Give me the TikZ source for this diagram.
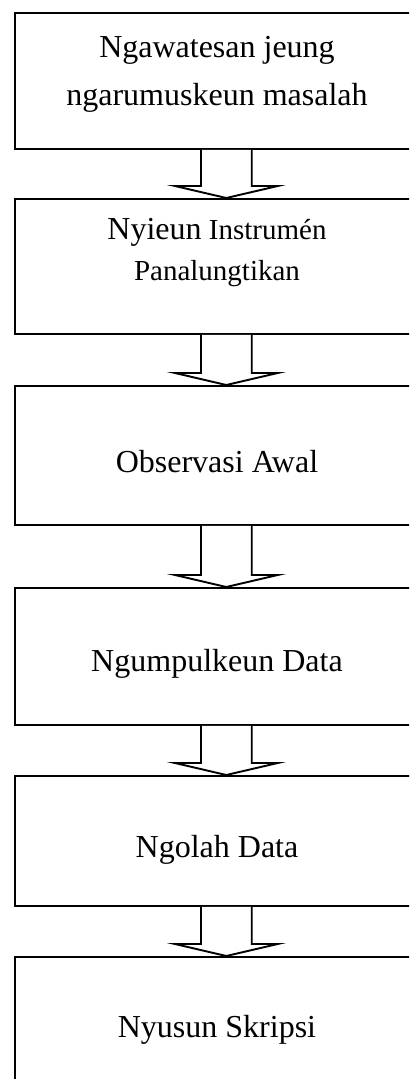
\documentclass[tikz,border=0pt]{standalone}
\usepackage{fontspec}
\setmainfont{Liberation Serif}
\usetikzlibrary{calc}
\tikzset{
  stage/.style={draw, line width=1.9bp, fill=white, minimum width=404bp, inner ysep=0pt, anchor=north, align=center, font=\fontsize{32bp}{48bp}\selectfont},
  flow/.style={draw, line width=1.9bp, fill=white, line join=miter}
}
% block arrow from the bottom of one box to the top of the next
\newcommand{\flowarrow}[2]{%
  \filldraw[flow] ($(#1.south)+(-16,0)$) -- ($(#2.north)+(-16,-12)$) -- ($(#2.north)+(-42,-12)$)
    -- ($(#2.north)+(9.3,0)$) -- ($(#2.north)+(60.7,-12)$) -- ($(#2.north)+(34.7,-12)$) -- ($(#1.south)+(34.7,0)$);}
\begin{document}
\begin{tikzpicture}[x=1bp,y=-1bp]
\useasboundingbox (0,0) rectangle (409,1079);
\clip (0,0) rectangle (409,1079);
%\draw[help lines,step=50] (0,0) grid (409,1079); %background grid
\node[stage, text height=93bp, text depth=43bp] (masalah) at (217,12) {Ngawatesan jeung\\ ngarumuskeun masalah};
\node[stage, text height=82bp, text depth=53bp, font=\fontsize{29bp}{41bp}\selectfont] (instrumen) at (217,198) {{\fontsize{32bp}{41bp}\selectfont Nyieun} Instrumén\\ Panalungtikan};
\node[stage, text height=86.7bp, text depth=52.3bp] (observasi) at (217,385) {Observasi Awal};
\node[stage, text height=83.7bp, text depth=53.3bp] (ngumpulkeun) at (217,587) {Ngumpulkeun Data};
\node[stage, text height=81.7bp, text depth=48.3bp] (ngolah) at (217,775) {Ngolah Data};
\node[stage, text height=80.7bp, text depth=60bp] (skripsi) at (217,956) {Nyusun Skripsi};
\flowarrow{masalah}{instrumen}
\flowarrow{instrumen}{observasi}
\flowarrow{observasi}{ngumpulkeun}
\flowarrow{ngumpulkeun}{ngolah}
\flowarrow{ngolah}{skripsi}
\end{tikzpicture}
\end{document}
